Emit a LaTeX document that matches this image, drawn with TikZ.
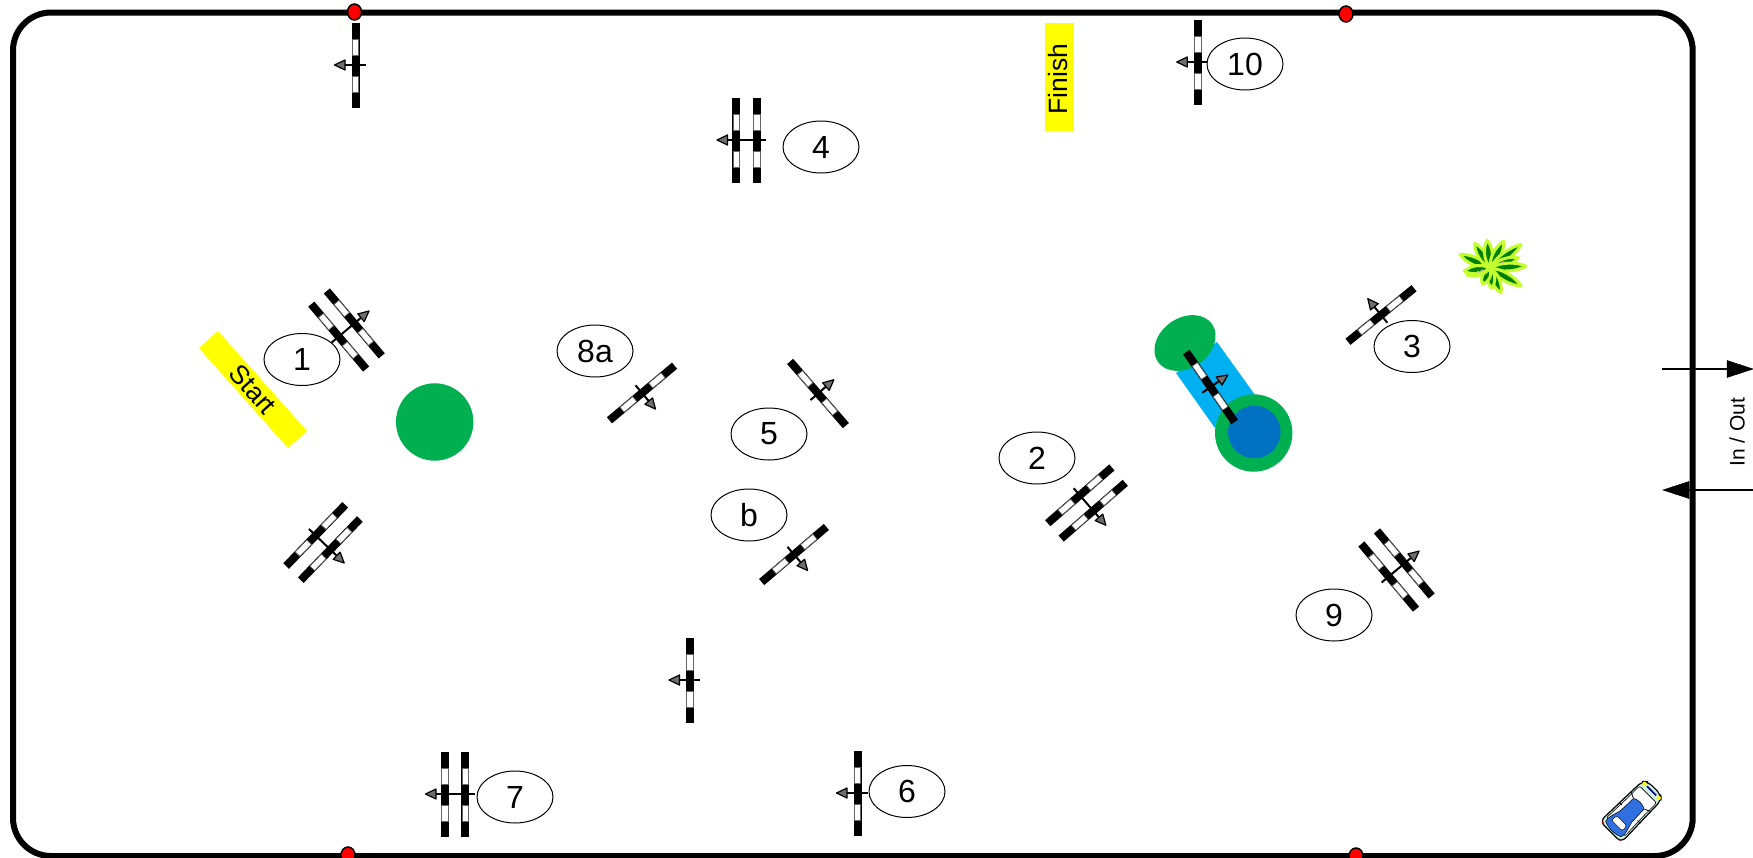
\documentclass[tikz,border=0pt]{standalone}
\usepackage{fontspec}
\setmainfont{Liberation Sans}
\usetikzlibrary{shapes.geometric}
\definecolor{grn}{HTML}{00B050}
\definecolor{skyb}{HTML}{00B0F0}
\definecolor{deepb}{HTML}{0070C0}
\definecolor{leafg}{HTML}{008000}
\definecolor{leafy}{HTML}{C4FF30}
\definecolor{signy}{RGB}{255,255,0}
\definecolor{arrowg}{HTML}{6E6E6E}
\definecolor{carbody}{HTML}{CDEFE0}
\definecolor{caredge}{HTML}{2F6FE0}
\definecolor{carmid}{HTML}{9CC4FF}
\tikzset{
  numtag/.style={ellipse,draw=black,fill=white,line width=1pt,minimum width=76pt,minimum height=52pt,inner sep=0pt,font=\fontsize{32}{38}\selectfont},
  signtag/.style={inner sep=0pt,fill=signy,font=\fontsize{26.5}{30}\selectfont},
  redpost/.style={draw=black,fill=red,line width=1.5pt},
  railwhite/.style={fill=white,draw=gray!80!black,line width=0.7pt},
  jumpline/.style={line width=2pt,black},
  jumphead/.style={fill=arrowg,draw=black,line width=1.2pt,line join=round},
  gateline/.style={line width=2pt,black},
  gatehead/.style={fill=black,draw=black,line width=.5pt}
}
\newcommand{\onerail}[1]{%
  \fill[black] (#1-4,-42.5) rectangle (#1+4,42.5);
  \filldraw[railwhite] (#1-3.2,-26) rectangle (#1+3.2,-9.5);
  \filldraw[railwhite] (#1-3.2,11.5) rectangle (#1+3.2,27.5);
}
\newcommand{\singlejump}[3]{%
  \begin{scope}[shift={(#1,#2)},rotate=#3]
    \onerail{0}
    \draw[jumpline] (10,0) -- (-12,0);
    \filldraw[jumphead] (-21,0) -- (-10.5,-5) -- (-10.5,5) -- cycle;
  \end{scope}}
\newcommand{\doublejump}[3]{%
  \begin{scope}[shift={(#1,#2)},rotate=#3]
    \onerail{-10.2}
    \onerail{10.2}
    \draw[jumpline] (19.5,0) -- (-20,0);
    \filldraw[jumphead] (-29.5,0) -- (-19,-5) -- (-19,5) -- cycle;
  \end{scope}}
\newcommand{\leafat}[2]{%
  \begin{scope}[rotate=#1,xscale=#2,yscale=5.5]
    \filldraw[fill=leafg,draw=leafy,line width=3pt,line join=round]
      (0.05,0) .. controls (0.25,1) and (0.75,0.9) .. (1,0) .. controls (0.75,-0.9) and (0.25,-1) .. (0.05,0) -- cycle;
  \end{scope}}
\begin{document}
\begin{tikzpicture}[x=1pt,y=-1pt]
\useasboundingbox (0,0) rectangle (1753,857);
% arena
\draw[line width=6pt,rounded corners=38pt] (13,12.5) rectangle (1692.7,856);
% in / out gate
\coordinate (inA) at (1662,369);
\coordinate (inB) at (1753,369);
\coordinate (outA) at (1753,490);
\coordinate (outB) at (1663,490);
\draw[gateline] (inA) -- (1728,369);
\fill[gatehead] (inB) -- (1727,360.5) -- (1727,377.5) -- cycle;
\draw[gateline] (outA) -- (1688,490);
\fill[gatehead] (outB) -- (1689,481.5) -- (1689,498.5) -- cycle;
\node[rotate=90,inner sep=0pt,font=\fontsize{21}{25}\selectfont] (inout) at (1737,432) {In / Out};
% posts
\path[redpost] (354.5,12) ellipse [x radius=7,y radius=8];
\path[redpost] (1346,14) ellipse [x radius=7,y radius=8];
\path[redpost] (348,855) ellipse [x radius=7,y radius=8];
\path[redpost] (1356,856) ellipse [x radius=7,y radius=8];
% start and finish
\node[signtag,rotate=-48.3,minimum width=134pt,minimum height=25.6pt] (start) at (253,389.5) {Start};
\node[signtag,rotate=90,minimum width=108pt,minimum height=29pt] (finish) at (1059.5,77) {\raisebox{3pt}{\hspace*{-4pt}Finish}};
% green disc
\fill[grn] (434.7,422) circle [radius=38.7];
% water jump
\fill[skyb] (1217,342) -- (1176,373) -- (1215,428) -- (1255,395) -- cycle;
\fill[grn,rotate around={35:(1185,343)}] (1185,343) ellipse [x radius=33,y radius=25];
\fill[grn] (1253.7,433) circle [radius=38.7];
\fill[deepb] (1254.3,432) circle [radius=26.3];
% jumps
\singlejump{355.5}{65}{0}
\singlejump{1197.7}{62}{0}
\singlejump{857.5}{793}{0}
\singlejump{690}{680}{0}
\singlejump{642}{393}{130}
\singlejump{818}{393.5}{-139}
\singlejump{794}{554.5}{130.4}
\singlejump{1381}{315}{-51}
\singlejump{1210.5}{387}{-145.3}
\doublejump{746.5}{140}{0}
\doublejump{455}{794}{0}
\doublejump{346.5}{330}{-139.8}
\doublejump{323}{542.5}{136}
\doublejump{1086.5}{503}{131}
\doublejump{1396.5}{570}{-140}
% number tags
\node[numtag] (n1) at (302,359.5) {1};
\node[numtag] (n8a) at (595,351) {8a};
\node[numtag] (n5) at (769,434) {5};
\node[numtag] (nb) at (749,515) {b};
\node[numtag] (n2) at (1037,458) {2};
\node[numtag] (n3) at (1412,346.5) {3};
\node[numtag] (n9) at (1334,615) {9};
\node[numtag] (n7) at (515,797) {7};
\node[numtag] (n6) at (907,791.5) {6};
\node[numtag] (n4) at (821,147) {4};
\node[numtag] (n10) at (1245,64) {10};
% shrub
\begin{scope}[shift={(1490,268)}]
  \leafat{156}{33}\leafat{122}{29}\leafat{96}{28}\leafat{63}{30}\leafat{37}{39}
  \leafat{20}{30}\leafat{3}{36}\leafat{-30}{36}\leafat{-66}{27}\leafat{-85}{20}
  \leafat{-115}{18}\leafat{-163}{24}\leafat{-173}{26}
  \fill[leafy] (0,0) circle [radius=4];
  \fill[pink!70!gray] (-12,4) circle [radius=1.3] (-8,2.5) circle [radius=1.3] (13,-5.5) circle [radius=1.3];
\end{scope}
% car
\begin{scope}[shift={(1632.5,810)},rotate=45]
  \filldraw[fill=carbody,draw=black,line width=1.2pt,rounded corners=6pt]
    (-31,-15) -- (27,-13.5) -- (31,-9) -- (31,9) -- (27,13.5) -- (-31,15) -- cycle;
  \filldraw[fill=white,draw=black,line width=.6pt,rounded corners=2pt] (-24,-13) -- (6,-12) -- (22,-12) -- (22,12) -- (6,12) -- (-24,13) -- cycle;
  \draw[black,line width=.8pt] (-4,-15) -- (-4,-11) (-4,15) -- (-4,11) (12,-14) -- (9,-8) (12,14) -- (9,8);
  \shade[top color=caredge,middle color=carmid,bottom color=caredge,draw=black,line width=.5pt]
    (-27,-11) .. controls (-22,-13) and (-14,-9) .. (-9,-8) -- (9,-7.5) .. controls (11.5,-3) and (11.5,3) .. (9,7.5) -- (-9,8) .. controls (-14,9) and (-22,13) .. (-27,11) .. controls (-30,5) and (-30,-5) .. (-27,-11) -- cycle;
  \filldraw[fill=white,draw=black,line width=.5pt,rounded corners=2.5pt] (-22,-8) -- (-15,-7) -- (-15,7) -- (-22,8) -- cycle;
  \fill[signy] (27,-10) circle [radius=2.2] (27,10) circle [radius=2.2];
  \draw[blue!50!black,line width=1.6pt] (27,-6.5) -- (27,6.5);
  \fill[red!70!black] (-30,-12) circle [radius=1.2] (-30,12) circle [radius=1.2];
\end{scope}
\end{tikzpicture}
\end{document}
